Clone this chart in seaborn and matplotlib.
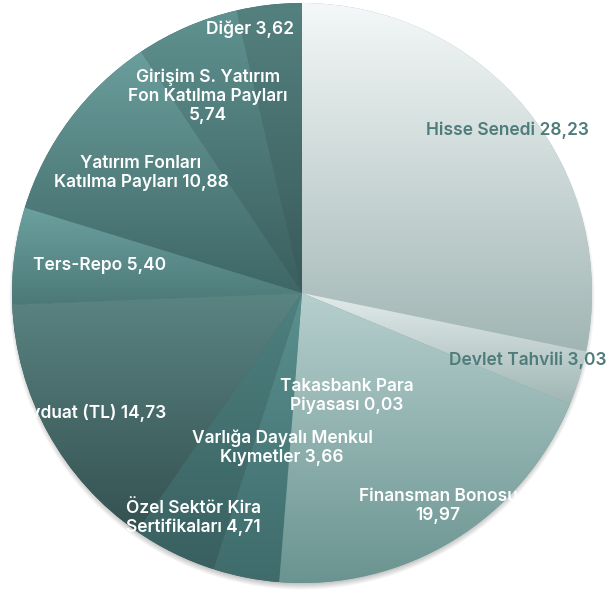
import numpy as np
import matplotlib
matplotlib.use("Agg")
import matplotlib.pyplot as plt
import seaborn as sns
from matplotlib.colors import LinearSegmentedColormap

# --- Data (clockwise from 12 o'clock) ---
CATEGORIES = [
    "Hisse Senedi", "Devlet Tahvili", "Finansman Bonosu", "Takasbank Para\nPiyasası",
    "Varlığa Dayalı Menkul\nKıymetler", "Özel Sektör Kira\nSertifikaları", "Mevduat (TL)",
    "Ters-Repo", "Yatırım Fonları\nKatılma Payları", "Girişim S. Yatırım\nFon Katılma Payları",
    "Diğer",
]
VALUES = [28.23, 3.03, 19.97, 0.03, 3.66, 4.71, 14.73, 5.40, 10.88, 5.74, 3.62]
LABEL_FMT = ["{} {}", "{} {}", "{}\n{}", "{} {}", "{} {}", "{} {}", "{} {}",
             "{} {}", "{} {}", "{}\n{}", "{} {}"]

# gradient (top, bottom) per slice
TOP_COLORS = ["#F4F8F8", "#E3ECEB", "#B6CFCD", "#5E9A98", "#5A9190", "#4D817F",
              "#5A8482", "#6BA19F", "#6A9E9C", "#5F9290", "#54817F"]
BOTTOM_COLORS = ["#A1B6B4", "#A0B6B4", "#6A9491", "#5A9391", "#3F6B6B", "#3A6061",
                 "#345151", "#4C7978", "#3E6666", "#3A5E5E", "#385A5A"]
DARK_LABEL = "#4E7C7A"

# label anchor in pixels (x from left, y from top)
LABEL_POS = [(507, 130), (528, 360), (438, 506), (347, 396), (282, 448), (193, 518),
             (166, 413), (100, 266), (141, 173), (208, 96), (250, 29)]

W, H = 612, 595
CX, CY, R = 302, 293, 290

sns.set_theme(style="white")
plt.rcParams['font.family'] = ['Inter', 'DejaVu Sans']

fig = plt.figure(figsize=(W / 100, H / 100), dpi=100)
ax = fig.add_axes([0, 0, 1, 1])

# soft shadow beneath the pie
yy, xx = np.mgrid[0:H, 0:W]
d = np.hypot(xx + 0.5 - CX, (H - yy - 0.5) - (H - CY - 4))
alpha = np.clip((R + 3 - d) / 7, 0, 1) * 0.45
shadow = np.zeros((H, W, 4))
shadow[..., :3] = 0.45
shadow[..., 3] = alpha
ax.imshow(shadow, extent=(0, W, 0, H), origin='upper', zorder=0, interpolation='bilinear')

wedges, _ = ax.pie(VALUES, startangle=90, counterclock=False, center=(CX, H - CY),
                   radius=R, colors=BOTTOM_COLORS, frame=True,
                   wedgeprops=dict(linewidth=0, zorder=1))
ax.set_xlim(0, W)
ax.set_ylim(0, H)
ax.set_aspect('auto')
ax.axis('off')

grad = np.linspace(0, 1, 256).reshape(-1, 1)
for w, top, bot in zip(wedges, TOP_COLORS, BOTTOM_COLORS):
    bb = w.get_path().transformed(w.get_patch_transform()).get_extents()
    cmap = LinearSegmentedColormap.from_list("g", [top, bot])
    im = ax.imshow(grad, cmap=cmap, aspect='auto', origin='upper',
                   extent=(bb.x0, bb.x1, bb.y0, bb.y1), zorder=2)
    im.set_clip_path(w)

for i, (cat, val) in enumerate(zip(CATEGORIES, VALUES)):
    txt = LABEL_FMT[i].format(cat, f"{val:.2f}".replace(".", ","))
    x, y = LABEL_POS[i]
    color = DARK_LABEL if i < 2 else "white"
    ha = 'right' if cat.startswith("Mevduat") else 'center'
    ax.text(x, H - y, txt, ha=ha, va='center', color=color, fontsize=12.5,
            fontweight='semibold', linespacing=1.15, zorder=5)

fig.savefig("out.png", dpi=100)
